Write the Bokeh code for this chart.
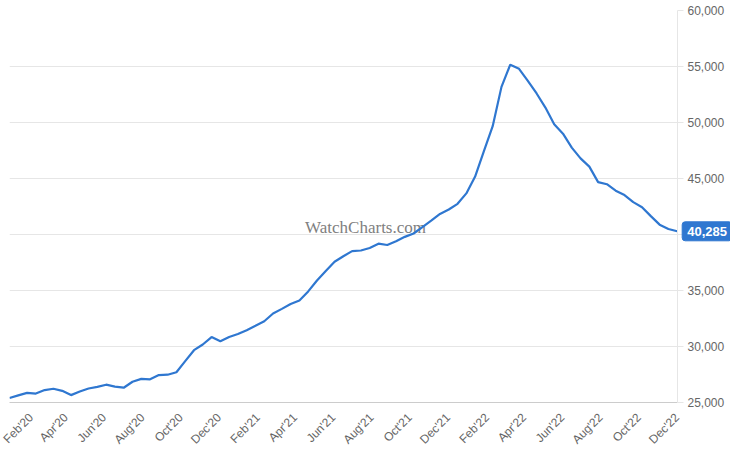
import math
import pandas as pd
from bokeh.plotting import figure
from bokeh.models import (FixedTicker, NumeralTickFormatter, Label, Range1d,
                          ColumnDataSource, GridBox)
from bokeh.embed import file_html
from bokeh.resources import INLINE

# ---- data (bi-weekly samples) ----
dates = pd.date_range("2020-01-02", periods=77, freq="14D")
prices = [
    25400, 25640, 25860, 25800, 26110, 26230, 26040, 25660, 25980, 26250,
    26390, 26590, 26420, 26320, 26850, 27110, 27070, 27450, 27480, 27700,
    28690, 29670, 30180, 30840, 30470, 30850, 31110, 31460, 31850, 32250,
    32950, 33360, 33800, 34110, 34920, 35890, 36740, 37570, 38060, 38520,
    38570, 38800, 39180, 39060, 39390, 39790, 40090, 40660, 41230, 41840,
    42230, 42740, 43670, 45170, 47450, 49670, 53180, 55160, 54790, 53720,
    52590, 51330, 49850, 49000, 47760, 46800, 46060, 44680, 44490, 43910,
    43520, 42890, 42440, 41640, 40880, 40490, 40285,
]
tick_dates = [
    "2020-02-01", "2020-04-01", "2020-06-01", "2020-08-01", "2020-10-01", "2020-12-01",
    "2021-02-01", "2021-04-01", "2021-06-01", "2021-08-01", "2021-10-01", "2021-12-01",
    "2022-02-01", "2022-04-01", "2022-06-01", "2022-08-01", "2022-10-01", "2022-12-01",
]
tick_labels = [
    "Feb'20", "Apr'20", "Jun'20", "Aug'20", "Oct'20", "Dec'20",
    "Feb'21", "Apr'21", "Jun'21", "Aug'21", "Oct'21", "Dec'21",
    "Feb'22", "Apr'22", "Jun'22", "Aug'22", "Oct'22", "Dec'22",
]
y_ticks = [25000, 30000, 35000, 40000, 45000, 50000, 55000, 60000]
watermark = "WatchCharts.com"

# ---- styling ----
BLUE = "#2F77D0"
GRID = "#e6e6e6"
LABEL = "#666666"
FONT = "Liberation Sans"
FRAME_W, FRAME_H = 668, 392
B_LEFT, B_TOP, B_RIGHT, B_BOTTOM = 9, 10, 53, 50

def ms(d):
    return pd.Timestamp(d).value / 1e6

xs = [ms(d) for d in dates]
src = ColumnDataSource(dict(x=xs, y=prices))

x_start, x_end = xs[0], xs[-1] + 12 * 3600 * 1000
y_range = Range1d(y_ticks[0], y_ticks[-1])
p = figure(
    x_axis_type="datetime",
    y_axis_location="right",
    frame_width=FRAME_W, frame_height=FRAME_H,
    min_border_left=B_LEFT, min_border_top=B_TOP,
    min_border_right=B_RIGHT, min_border_bottom=B_BOTTOM,
    x_range=Range1d(x_start, x_end),
    y_range=y_range,
    output_backend="svg", toolbar_location=None,
)
p.outline_line_color = None
p.background_fill_color = "white"
p.border_fill_color = "white"

p.xgrid.grid_line_color = None
p.ygrid.grid_line_color = GRID
p.ygrid.ticker = FixedTicker(ticks=y_ticks)

# x axis
tick_ms = [ms(d) for d in tick_dates]
p.xaxis.ticker = FixedTicker(ticks=tick_ms)
p.xaxis.major_label_overrides = {t: lab for t, lab in zip(tick_ms, tick_labels)}
p.xaxis.major_label_orientation = math.pi / 4
p.xaxis.axis_line_color = "#cccccc"
p.xaxis.major_tick_line_color = None
p.xaxis.minor_tick_line_color = None
p.xaxis.major_tick_out = 0
p.xaxis.major_tick_in = 0
p.xaxis.major_label_standoff = 13
p.xaxis.major_label_text_font = FONT
p.xaxis.major_label_text_font_size = "12px"
p.xaxis.major_label_text_color = LABEL

# y axis (right)
p.yaxis.ticker = FixedTicker(ticks=y_ticks)
p.yaxis.formatter = NumeralTickFormatter(format="0,0")
p.yaxis.axis_line_color = GRID
p.yaxis.major_tick_line_color = GRID
p.yaxis.major_tick_out = 6
p.yaxis.major_tick_in = 0
p.yaxis.minor_tick_line_color = None
p.yaxis.major_label_standoff = 4
p.yaxis.major_label_text_font = FONT
p.yaxis.major_label_text_font_size = "12px"
p.yaxis.major_label_text_color = LABEL

# watermark
p.add_layout(Label(
    x=x_start + 0.533 * (x_end - x_start), y=40650, text=watermark,
    text_font="Liberation Serif", text_font_size="17px", text_color="#808080",
    text_align="center", text_baseline="middle", level="underlay",
))

# line
p.line("x", "y", source=src, line_color=BLUE, line_width=2.2)

# ---- transparent overlay figure holding the last-value badge ----
wide_w = FRAME_W + B_RIGHT
p2 = figure(
    x_axis_type="datetime",
    x_axis_location=None, y_axis_location=None,
    frame_width=wide_w, frame_height=FRAME_H,
    min_border_left=B_LEFT, min_border_top=B_TOP,
    min_border_right=0, min_border_bottom=B_BOTTOM,
    x_range=Range1d(x_start, x_start + (x_end - x_start) * wide_w / FRAME_W),
    y_range=y_range,
    output_backend="svg", toolbar_location=None,
)
p2.xgrid.visible = False
p2.ygrid.visible = False
p2.outline_line_color = None
p2.background_fill_color = None
p2.border_fill_color = None
p2.add_layout(Label(
    x=xs[-1], y=prices[-1], x_offset=5, text=f"{prices[-1]:,}",
    text_font=FONT, text_font_size="13px", text_font_style="bold", text_color="white",
    text_align="left", text_baseline="middle",
    background_fill_color=BLUE, background_fill_alpha=1.0,
    border_line_color=BLUE, padding=5, border_radius=3,
))

layout = GridBox(children=[(p, 0, 0), (p2, 0, 0)])
open("out.html", "w").write(file_html(layout, INLINE))
